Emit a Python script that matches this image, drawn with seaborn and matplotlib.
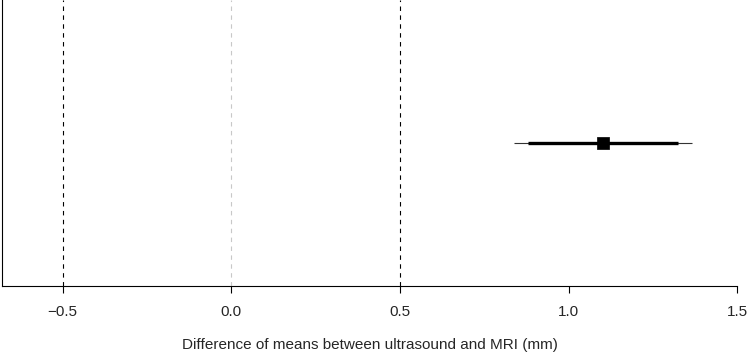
import matplotlib
matplotlib.use('Agg')
import matplotlib.pyplot as plt
import pandas
import seaborn as sns

# equivalence test result (difference of means, mm)
estimate = [1.101]
ci_90 = [0.880, 1.325]
ci_95 = [0.837, 1.367]
equivalence_bounds = [-0.5, 0.5]
null_value = [0.0]
xticks = [-0.5, 0.0, 0.5, 1.0, 1.5]
xlabel = 'Difference of means between ultrasound and MRI (mm)'

sns.set_style('white')
plt.rcParams['font.family'] = ['Liberation Sans', 'DejaVu Sans']

fig = plt.figure(figsize=(7.48, 3.52), dpi=100)
ax = fig.add_axes([2.0 / 748, 66.0 / 352, 735.3 / 748, 286.0 / 352])

for b in equivalence_bounds:
    ax.axvline(b, color='black', linestyle=(0, (4, 4)), linewidth=0.8, zorder=1)
for b in null_value:
    ax.axvline(b, color='#c8c8c8', linestyle=(0, (4, 4)), linewidth=0.8, zorder=1)

ax.plot(ci_95, [0, 0], color='#333333', linewidth=0.8, solid_capstyle='butt', zorder=2)
ax.plot(ci_90, [0, 0], color='black', linewidth=2.4, solid_capstyle='butt', zorder=3)
point = pandas.DataFrame({'x': estimate, 'y': [0] * len(estimate)})
sns.scatterplot(data=point, x='x', y='y', marker='s', s=64, color='black',
                edgecolor='black', linewidth=0.5, zorder=4, ax=ax, legend=False)

ax.set_xlim(-0.6795, 1.5)
ax.set_ylim(-1, 1)
ax.set_xticks(xticks)
ax.set_xticklabels(['\u22120.5', '0.0', '0.5', '1.0', '1.5'])
ax.set_yticks([])
ax.set_ylabel('')
ax.set_xlabel(xlabel, fontsize=11, labelpad=13)
ax.tick_params(axis='x', direction='out', length=5, width=0.8, pad=9,
               labelsize=11, bottom=True, color='black')
for side in ['top', 'right']:
    ax.spines[side].set_visible(False)
for side in ['left', 'bottom']:
    ax.spines[side].set_color('black')
    ax.spines[side].set_linewidth(0.8)

fig.savefig('out.png', dpi=100)
